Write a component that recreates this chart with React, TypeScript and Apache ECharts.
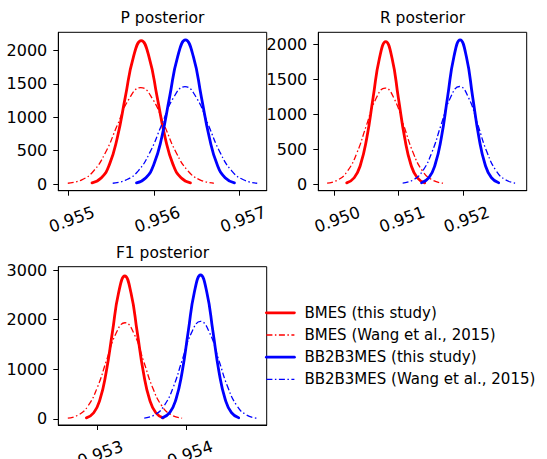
import React, { useEffect, useRef } from "react";
import * as echarts from "echarts";

// ---- Data ----
const SERIES_NAMES = [
  "BMES (this study)",
  "BMES (Wang et al., 2015)",
  "BB2B3MES (this study)",
  "BB2B3MES (Wang et al., 2015)",
];
const TITLES = ["P posterior", "R posterior", "F1 posterior"];

// P posterior
const P_BMES_THIS_X = [0.955275, 0.955385, 0.955478, 0.955571, 0.955664, 0.955757, 0.95585, 0.955943, 0.956036, 0.956129, 0.956222, 0.956315, 0.956425];
const P_BMES_THIS_Y = [18, 94, 291, 698, 1304, 1897, 2150, 1897, 1304, 698, 291, 94, 18];
const P_BMES_WANG_X = [0.954992, 0.955155, 0.955293, 0.955431, 0.955569, 0.955707, 0.955845, 0.955983, 0.956121, 0.956259, 0.956397, 0.956535, 0.956698];
const P_BMES_WANG_Y = [12, 63, 196, 469, 876, 1275, 1445, 1275, 876, 469, 196, 63, 12];
const P_BB_THIS_X = [0.955795, 0.955905, 0.955997, 0.95609, 0.956182, 0.956275, 0.956367, 0.95646, 0.956552, 0.956645, 0.956737, 0.95683, 0.956939];
const P_BB_THIS_Y = [18, 95, 292, 701, 1310, 1906, 2160, 1906, 1310, 701, 292, 95, 18];
const P_BB_WANG_X = [0.955517, 0.955678, 0.955815, 0.955951, 0.956088, 0.956224, 0.956361, 0.956498, 0.956634, 0.956771, 0.956907, 0.957044, 0.957205];
const P_BB_WANG_Y = [12, 64, 198, 474, 885, 1288, 1460, 1288, 885, 474, 198, 64, 12];

// R posterior
const R_BMES_THIS_X = [0.950197, 0.950313, 0.95041, 0.950508, 0.950605, 0.950703, 0.9508, 0.950898, 0.950995, 0.951093, 0.95119, 0.951288, 0.951403];
const R_BMES_THIS_Y = [17, 90, 277, 664, 1240, 1805, 2045, 1805, 1240, 664, 277, 90, 17];
const R_BMES_WANG_X = [0.949894, 0.950065, 0.95021, 0.950355, 0.9505, 0.950645, 0.95079, 0.950935, 0.95108, 0.951225, 0.95137, 0.951515, 0.951686];
const R_BMES_WANG_Y = [12, 60, 186, 447, 836, 1216, 1378, 1216, 836, 447, 186, 60, 12];
const R_BB_THIS_X = [0.951354, 0.951468, 0.951564, 0.951661, 0.951757, 0.951854, 0.95195, 0.952047, 0.952143, 0.95224, 0.952336, 0.952433, 0.952546];
const R_BB_THIS_Y = [18, 91, 280, 672, 1255, 1827, 2070, 1827, 1255, 672, 280, 91, 18];
const R_BB_WANG_X = [0.951062, 0.95123, 0.951372, 0.951514, 0.951656, 0.951798, 0.95194, 0.952082, 0.952224, 0.952366, 0.952508, 0.95265, 0.952818];
const R_BB_WANG_Y = [12, 61, 189, 455, 849, 1236, 1400, 1236, 849, 455, 189, 61, 12];

// F1 posterior
const F_BMES_THIS_X = [0.952882, 0.952964, 0.953033, 0.953102, 0.953172, 0.953241, 0.95331, 0.953379, 0.953449, 0.953518, 0.953587, 0.953656, 0.953738];
const F_BMES_THIS_Y = [24, 126, 390, 935, 1747, 2542, 2880, 2542, 1747, 935, 390, 126, 24];
const F_BMES_WANG_X = [0.952675, 0.952797, 0.9529, 0.953003, 0.953106, 0.953209, 0.953312, 0.953415, 0.953518, 0.953621, 0.953724, 0.953827, 0.953949];
const F_BMES_WANG_Y = [16, 85, 262, 629, 1175, 1710, 1938, 1710, 1175, 629, 262, 85, 16];
const F_BB_THIS_X = [0.95373, 0.953811, 0.95388, 0.953949, 0.954017, 0.954086, 0.954155, 0.954224, 0.954293, 0.954361, 0.95443, 0.954499, 0.95458];
const F_BB_THIS_Y = [25, 127, 392, 942, 1759, 2559, 2900, 2559, 1759, 942, 392, 127, 25];
const F_BB_WANG_X = [0.953527, 0.953647, 0.953748, 0.95385, 0.953951, 0.954053, 0.954154, 0.954256, 0.954357, 0.954459, 0.95456, 0.954662, 0.954781];
const F_BB_WANG_Y = [17, 86, 266, 638, 1192, 1734, 1965, 1734, 1192, 638, 266, 86, 17];

// Tick labels
const P_X_TICKS = [0.955, 0.956, 0.957];
const R_X_TICKS = [0.95, 0.951, 0.952];
const F_X_TICKS = [0.953, 0.954];
const P_Y_TICKS = [0, 500, 1000, 1500, 2000];
const R_Y_TICKS = [0, 500, 1000, 1500, 2000];
const F_Y_TICKS = [0, 1000, 2000, 3000];

// Axis extents (matplotlib auto margins, as seen in the picture)
const X_RANGES = [
  [0.954881, 0.957316],
  [0.949758, 0.952979],
  [0.952569, 0.954892],
];
const Y_RANGES = [
  [-100, 2275],
  [-96, 2178],
  [-121, 3067],
];

const CURVES = [
  [
    [P_BMES_THIS_X, P_BMES_THIS_Y],
    [P_BMES_WANG_X, P_BMES_WANG_Y],
    [P_BB_THIS_X, P_BB_THIS_Y],
    [P_BB_WANG_X, P_BB_WANG_Y],
  ],
  [
    [R_BMES_THIS_X, R_BMES_THIS_Y],
    [R_BMES_WANG_X, R_BMES_WANG_Y],
    [R_BB_THIS_X, R_BB_THIS_Y],
    [R_BB_WANG_X, R_BB_WANG_Y],
  ],
  [
    [F_BMES_THIS_X, F_BMES_THIS_Y],
    [F_BMES_WANG_X, F_BMES_WANG_Y],
    [F_BB_THIS_X, F_BB_THIS_Y],
    [F_BB_WANG_X, F_BB_WANG_Y],
  ],
];
const X_TICKS = [P_X_TICKS, R_X_TICKS, F_X_TICKS];
const Y_TICKS = [P_Y_TICKS, R_Y_TICKS, F_Y_TICKS];

// ---- Layout / style ----
const FONT = "DejaVu Sans";
const COLORS = ["#ff0000", "#ff0000", "#0000ff", "#0000ff"];
const SOLID = [true, false, true, false];
const GRIDS = [
  { left: 58.3, top: 32.3, width: 208.4, height: 158.4 },
  { left: 318.3, top: 32.3, width: 208.4, height: 158.4 },
  { left: 58.3, top: 266.7, width: 208.4, height: 158.3 },
];

export default function App() {
  const ref = useRef<HTMLDivElement>(null);

  useEffect(() => {
    if (!ref.current) return;
    const chart = echarts.init(ref.current, null, { renderer: "svg" });

    const grid = GRIDS.map((g) => ({
      ...g,
      show: true,
      borderColor: "#000",
      borderWidth: 1,
      backgroundColor: "transparent",
      containLabel: false,
      outerBoundsMode: "none",
    }));

    const xAxis = X_RANGES.map((r, i) => ({
      type: "value",
      gridIndex: i,
      min: r[0],
      max: r[1],
      splitLine: { show: false },
      axisLine: { show: true, onZero: false, lineStyle: { color: "#000", width: 1 } },
      axisTick: {
        show: true,
        inside: false,
        length: 5,
        lineStyle: { color: "#000", width: 1 },
        customValues: X_TICKS[i],
      },
      axisLabel: {
        show: true,
        customValues: X_TICKS[i],
        formatter: (v: number) => v.toFixed(3),
        rotate: 20,
        align: "center",
        verticalAlign: "middle",
        margin: 30,
        padding: [0, 0, 0, 7],
        color: "#000",
        fontFamily: FONT,
        fontSize: 16.5,
        hideOverlap: false,
      },
    }));

    const yAxis = Y_RANGES.map((r, i) => ({
      type: "value",
      gridIndex: i,
      min: r[0],
      max: r[1],
      splitLine: { show: false },
      axisLine: { show: true, onZero: false, lineStyle: { color: "#000", width: 1 } },
      axisTick: {
        show: true,
        inside: false,
        length: 5,
        lineStyle: { color: "#000", width: 1 },
        customValues: Y_TICKS[i],
      },
      axisLabel: {
        show: true,
        customValues: Y_TICKS[i],
        formatter: (v: number) => String(v),
        margin: 11,
        color: "#000",
        fontFamily: FONT,
        fontSize: 16,
      },
    }));

    const series: any[] = [];
    CURVES.forEach((curves, gi) => {
      curves.forEach(([xs, ys], ci) => {
        series.push({
          type: "line",
          name: SERIES_NAMES[ci],
          xAxisIndex: gi,
          yAxisIndex: gi,
          data: xs.map((x: number, k: number) => [x, ys[k]]),
          smooth: true,
          symbol: "none",
          showSymbol: false,
          clip: true,
          lineStyle: SOLID[ci]
            ? { color: COLORS[ci], width: 2.8, type: "solid", cap: "round" }
            : { color: COLORS[ci], width: 1.3, type: [6, 2.5, 1.5, 2.5] },
          itemStyle: { color: COLORS[ci] },
          emphasis: { disabled: true },
        });
      });
    });

    const title = TITLES.map((t, i) => ({
      text: t,
      left: GRIDS[i].left + GRIDS[i].width / 2,
      top: GRIDS[i].top - 22,
      textAlign: "center",
      padding: 0,
      textStyle: {
        fontFamily: FONT,
        fontSize: 15.5,
        fontWeight: "normal",
        color: "#000",
      },
    }));

    chart.setOption({
      animation: false,
      backgroundColor: "#fff",
      title,
      grid,
      xAxis,
      yAxis,
      series,
      legend: {
        data: SERIES_NAMES,
        orient: "vertical",
        left: 265,
        top: 305.3,
        padding: 0,
        itemWidth: 28,
        itemHeight: 16,
        itemGap: 7.2,
        selectedMode: false,
        itemStyle: { opacity: 0, color: "transparent", borderWidth: 0 },
        lineStyle: { width: "inherit", type: "inherit" },
        textStyle: {
          fontFamily: FONT,
          fontSize: 15,
          color: "#000",
          padding: [0, 0, 0, 5],
        },
      },
    });

    return () => chart.dispose();
  }, []);

  return (
    <div
      ref={ref}
      style={{ position: "absolute", left: 0, top: 0, width: 547, height: 459, background: "#fff" }}
    />
  );
}
